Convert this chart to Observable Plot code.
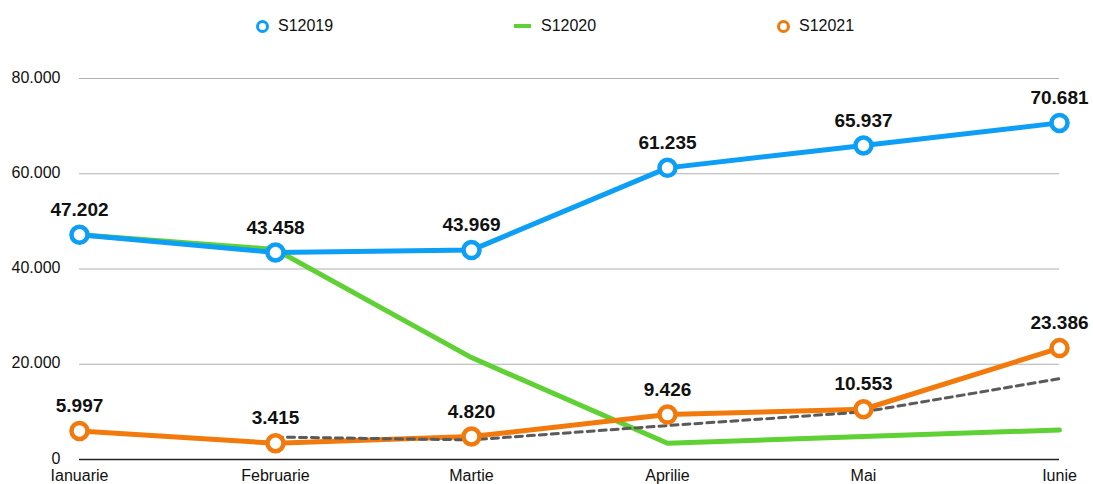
<!DOCTYPE html>
<html>
<head>
<meta charset="utf-8">
<script src="https://cdn.jsdelivr.net/npm/d3@7"></script>
<script src="https://cdn.jsdelivr.net/npm/@observablehq/plot@0.6"></script>
<style>
  body { margin: 0; background: #fff; font-family: "Liberation Sans", Arial, Helvetica, sans-serif; }
  #wrap { width: 1093px; }
  #legend { position: relative; height: 52px; font-size: 16px; color: #111; }
  .item { position: absolute; top: 17px; display: flex; align-items: center; height: 18px; }
  .circ { width: 7px; height: 7px; border-radius: 50%; border: 3px solid; background: #fff; margin-right: 9px; }
  .ln { width: 17px; height: 4px; margin-right: 10px; }
</style>
</head>
<body>
<div id="wrap">
  <div id="legend"></div>
  <div id="chart"></div>
</div>
<script>
const months = ["Ianuarie", "Februarie", "Martie", "Aprilie", "Mai", "Iunie"];
const s2019 = [47202, 43458, 43969, 61235, 65937, 70681];
const s2020 = [47202, 44100, 21400, 3400, 4850, 6200];
const s2021 = [5997, 3415, 4820, 9426, 10553, 23386];
// trend line (2-period moving average of S12021), starting at Februarie
const trendMonths = ["Februarie", "Martie", "Aprilie", "Mai", "Iunie"];
const trend = [4706, 4118, 7123, 9990, 16970];
const yTicks = [0, 20000, 40000, 60000, 80000];

const colors = { S12019: "#0d9ef5", S12020: "#5fd134", S12021: "#f27a0c" };

const d2019 = months.map((m, i) => ({ m, v: s2019[i] }));
const d2020 = months.map((m, i) => ({ m, v: s2020[i] }));
const d2021 = months.map((m, i) => ({ m, v: s2021[i] }));
const dTrend = trendMonths.map((m, i) => ({ m, v: trend[i] }));

const fmt = v => v === 0 ? "0" : d3.format(",")(v).replace(/,/g, ".");

// Legend
const legend = document.getElementById("legend");
const items = [
  { name: "S12019", type: "circ", left: 256 },
  { name: "S12020", type: "ln", left: 514 },
  { name: "S12021", type: "circ", left: 777 }
];
for (const it of items) {
  const d = document.createElement("div");
  d.className = "item";
  d.style.left = it.left + "px";
  const mk = document.createElement("span");
  mk.className = it.type;
  if (it.type === "circ") mk.style.borderColor = colors[it.name];
  else mk.style.background = colors[it.name];
  d.appendChild(mk);
  const t = document.createElement("span");
  t.textContent = it.name;
  d.appendChild(t);
  legend.appendChild(d);
}

const lineW = 5;
const chart = Plot.plot({
  width: 1093,
  height: 432,
  marginLeft: 79,
  marginRight: 34,
  marginTop: 26,
  marginBottom: 25,
  style: { fontFamily: "'Liberation Sans', Arial, Helvetica, sans-serif", fontSize: "16px", color: "#111", background: "#fff" },
  x: { type: "point", domain: months, padding: 0, label: null },
  y: { domain: [0, 80000], label: null },
  marks: [
    Plot.ruleY(yTicks.filter(t => t > 0), { stroke: "#b0b0b0", strokeWidth: 1.2 }),
    Plot.ruleY([0], { stroke: "#222", strokeWidth: 1.5 }),
    Plot.axisY({ ticks: yTicks, tickSize: 0, tickPadding: 19, tickFormat: fmt, fontSize: 16, dy: -1, label: null }),
    Plot.axisX({ tickSize: 0, tickPadding: 10, fontSize: 16, label: null }),
    Plot.line(d2020, { x: "m", y: "v", stroke: colors.S12020, strokeWidth: lineW }),
    Plot.line(d2021, { x: "m", y: "v", stroke: colors.S12021, strokeWidth: lineW }),
    Plot.line(dTrend, { x: "m", y: "v", stroke: "#5a5a5a", strokeWidth: 3, strokeDasharray: "7,5" }),
    Plot.line(d2019, { x: "m", y: "v", stroke: colors.S12019, strokeWidth: lineW }),
    Plot.dot(d2019, { x: "m", y: "v", r: 8, fill: "#fff", stroke: colors.S12019, strokeWidth: 4.5 }),
    Plot.dot(d2021, { x: "m", y: "v", r: 8, fill: "#fff", stroke: colors.S12021, strokeWidth: 4.5 }),
    Plot.text(d2019, { x: "m", y: "v", text: d => fmt(d.v), dy: -25, fontSize: 19, fontWeight: "bold", fill: "#111" }),
    Plot.text(d2021, { x: "m", y: "v", text: d => fmt(d.v), dy: -25, fontSize: 19, fontWeight: "bold", fill: "#111" })
  ]
});
document.getElementById("chart").appendChild(chart);
</script>
</body>
</html>
